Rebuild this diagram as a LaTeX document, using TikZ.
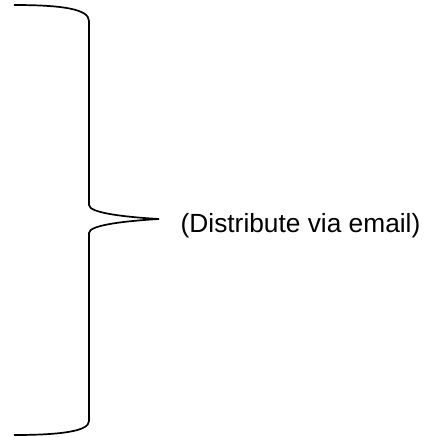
\documentclass[tikz,border=0pt]{standalone}
\usepackage{fontspec}
\setmainfont{Liberation Sans}
\usetikzlibrary{positioning}

\begin{document}
\begin{tikzpicture}[x=1pt,y=-1pt,brace/.style={line width=1.7pt,black},txt/.style={font=\fontsize{26.3}{30}\selectfont,inner sep=0pt}]
			\useasboundingbox (0,0) rectangle (440,437);
			\coordinate (top) at (14,5);
			\coordinate (tip) at (159,219);
			\coordinate (bot) at (14,435);
			\draw[brace] (top) .. controls (62,5) and (89,9) .. (89,21)
				-- (89,205) .. controls (89,213) and (125,217) .. (tip);
			\draw[brace] (tip) .. controls (125,221) and (89,225) .. (89,233)
				-- (89,421) .. controls (89,431) and (62,435) .. (bot);
			\node[txt,anchor=base west] (label) at (180.5,232.5) {(Distribute via email)};
		\end{tikzpicture}
\end{document}
